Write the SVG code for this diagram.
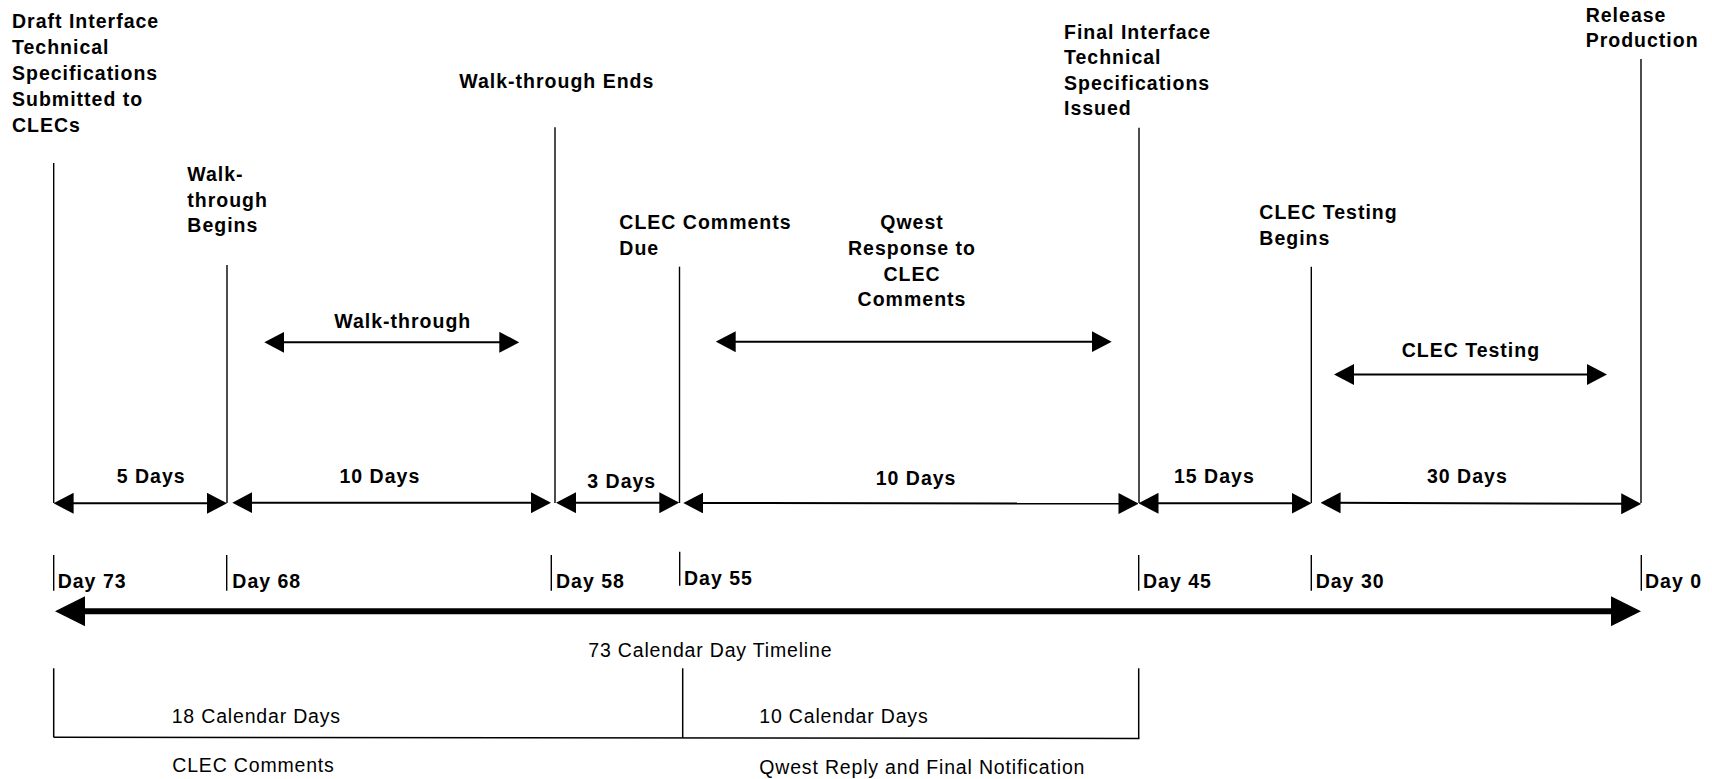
<svg xmlns="http://www.w3.org/2000/svg" width="1712" height="779" viewBox="0 0 1712 779">
<style>
text{font-family:"Liberation Sans",Arial,sans-serif;font-size:19.5px;fill:#000}
.b{font-weight:bold;letter-spacing:1px}
.r{letter-spacing:0.82px}
.v{stroke:#000;stroke-width:1.4;fill:none}
.a{stroke:#000;stroke-width:2;fill:none;marker-start:url(#ah);marker-end:url(#ah)}
.ax{stroke:#000;stroke-width:6;fill:none;marker-start:url(#big);marker-end:url(#big)}
.br{stroke:#000;stroke-width:1.5;fill:none}
</style>
<defs>
<marker id="ah" markerUnits="userSpaceOnUse" viewBox="0 0 20 21" refX="10" refY="10.5" markerWidth="20" markerHeight="21" orient="auto-start-reverse"><path d="M0,0 L20,10.5 L0,21 Z" fill="#000"/></marker>
<marker id="big" markerUnits="userSpaceOnUse" viewBox="0 0 30 30" refX="15" refY="15" markerWidth="30" markerHeight="30" orient="auto-start-reverse"><path d="M0,0 L30,15 L0,30 Z" fill="#000"/></marker>
</defs>
<rect width="1712" height="779" fill="#fff"/>

<g id="m-draft">
<text class="b" x="12" y="28.3">Draft Interface</text>
<text class="b" x="12" y="54.3">Technical</text>
<text class="b" x="12" y="80">Specifications</text>
<text class="b" x="12" y="106">Submitted to</text>
<text class="b" x="12" y="131.5">CLECs</text>
<line class="v" x1="53.7" y1="163" x2="53.7" y2="503"/>
</g>
<g id="m-wtbegin">
<text class="b" x="187.3" y="181">Walk-</text>
<text class="b" x="187.3" y="206.7">through</text>
<text class="b" x="187.3" y="231.7">Begins</text>
<line class="v" x1="227" y1="265" x2="227" y2="503"/>
</g>
<g id="m-wtend">
<text class="b" x="459.3" y="88.3">Walk-through Ends</text>
<line class="v" x1="555" y1="127.3" x2="555" y2="503"/>
</g>
<g id="m-clecdue">
<text class="b" x="619.3" y="229.3">CLEC Comments</text>
<text class="b" x="619.3" y="255">Due</text>
<line class="v" x1="679.5" y1="266.7" x2="679.5" y2="503"/>
</g>
<g id="l-qwest">
<text class="b" x="912" y="229.3" text-anchor="middle">Qwest</text>
<text class="b" x="912" y="255.3" text-anchor="middle">Response to</text>
<text class="b" x="912" y="280.5" text-anchor="middle">CLEC</text>
<text class="b" x="912" y="305.7" text-anchor="middle">Comments</text>
</g>
<g id="m-final">
<text class="b" x="1064" y="39.3">Final Interface</text>
<text class="b" x="1064" y="64.3">Technical</text>
<text class="b" x="1064" y="90">Specifications</text>
<text class="b" x="1064" y="115">Issued</text>
<line class="v" x1="1139" y1="127.7" x2="1139" y2="503"/>
</g>
<g id="m-testbegin">
<text class="b" x="1259.3" y="219.3">CLEC Testing</text>
<text class="b" x="1259.3" y="245">Begins</text>
<line class="v" x1="1311.3" y1="266.7" x2="1311.3" y2="503"/>
</g>
<g id="m-release">
<text class="b" x="1585.7" y="21.7">Release</text>
<text class="b" x="1585.7" y="46.7">Production</text>
<line class="v" x1="1641" y1="59" x2="1641" y2="503"/>
</g>

<g id="l-activities">
<text class="b" x="334.3" y="328.3">Walk-through</text>
<text class="b" x="1401.7" y="356.7">CLEC Testing</text>
</g>

<g id="l-spans">
<text class="b" x="116.7" y="482.7">5 Days</text>
<text class="b" x="339.5" y="483">10 Days</text>
<text class="b" x="587.3" y="488.3">3 Days</text>
<text class="b" x="875.7" y="485">10 Days</text>
<text class="b" x="1174" y="482.7">15 Days</text>
<text class="b" x="1427" y="482.7">30 Days</text>
</g>

<g id="ticks">
<line class="v" x1="53.7" y1="555" x2="53.7" y2="590.7"/>
<text class="b" x="57.7" y="588.3">Day 73</text>
<line class="v" x1="226.7" y1="555" x2="226.7" y2="590.7"/>
<text class="b" x="232.3" y="588.3">Day 68</text>
<line class="v" x1="551.3" y1="555" x2="551.3" y2="590.7"/>
<text class="b" x="556" y="588.3">Day 58</text>
<line class="v" x1="679.7" y1="551.7" x2="679.7" y2="585.7"/>
<text class="b" x="684" y="585">Day 55</text>
<line class="v" x1="1138.7" y1="555" x2="1138.7" y2="590.7"/>
<text class="b" x="1143" y="588.3">Day 45</text>
<line class="v" x1="1311.3" y1="555" x2="1311.3" y2="590.7"/>
<text class="b" x="1315.7" y="588.3">Day 30</text>
<line class="v" x1="1641.3" y1="555" x2="1641.3" y2="590.7"/>
<text class="b" x="1645" y="588.3">Day 0</text>
</g>

<g id="connectors">
<line class="a" x1="274.3" y1="342.3" x2="509.3" y2="342.3"/>
<line class="a" x1="725.7" y1="341.7" x2="1101.7" y2="341.7"/>
<line class="a" x1="1344" y1="374.5" x2="1597" y2="374.5"/>
<line class="a" x1="63.6" y1="503.3" x2="217" y2="503.3"/>
<line class="a" x1="242.3" y1="502.7" x2="541" y2="502.7"/>
<line class="a" x1="566" y1="502.7" x2="669.3" y2="502.7"/>
<line class="a" x1="693.3" y1="503" x2="1128.5" y2="503.6"/>
<line class="a" x1="1148.5" y1="503.3" x2="1301.5" y2="503.3"/>
<line class="a" x1="1330.6" y1="502.8" x2="1631.2" y2="503.8"/>
<line class="ax" x1="70" y1="611.2" x2="1626" y2="611.2"/>
</g>

<g id="l-timeline">
<text class="r" x="588.3" y="657.3">73 Calendar Day Timeline</text>
</g>

<g id="bracket">
<line class="br" x1="53.7" y1="668.3" x2="53.7" y2="737.3"/>
<line class="br" x1="682.7" y1="668.3" x2="682.7" y2="737.8"/>
<line class="br" x1="1138.7" y1="668.3" x2="1138.7" y2="738.5"/>
<line class="br" x1="53.7" y1="737.3" x2="1139.4" y2="738.5"/>
<text class="r" x="171.7" y="722.7">18 Calendar Days</text>
<text class="r" x="759.3" y="722.7">10 Calendar Days</text>
<text class="r" x="172.3" y="772.3">CLEC Comments</text>
<text class="r" x="759.3" y="774">Qwest Reply and Final Notification</text>
</g>
</svg>
